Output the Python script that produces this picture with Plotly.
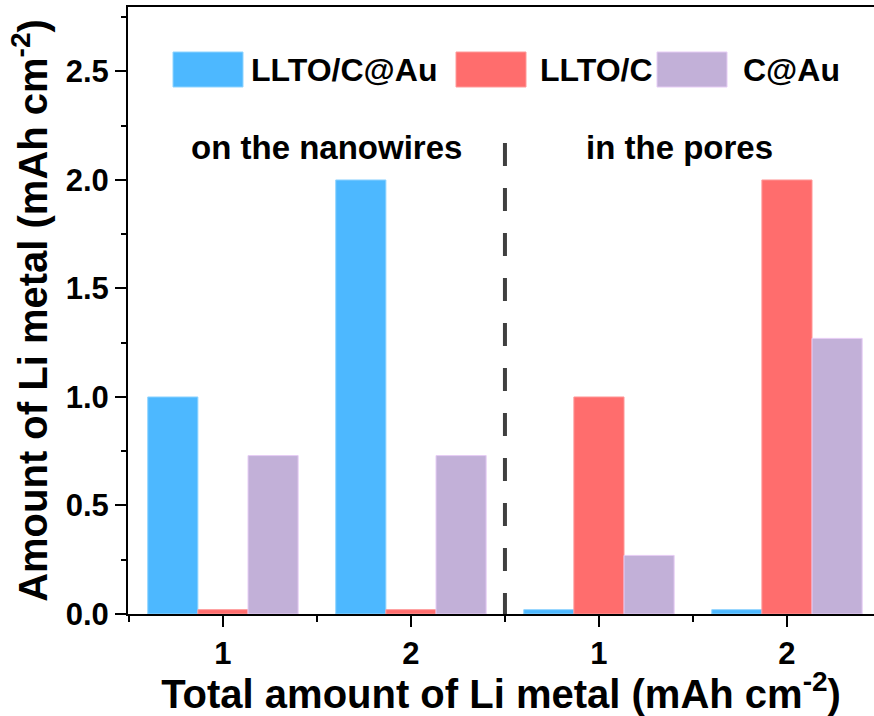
import plotly.graph_objects as go

# ---- data ----
positions = [1, 2, 3, 4]
tick_labels = ["1", "2", "1", "2"]
series_names = ["LLTO/C@Au", "LLTO/C", "C@Au"]
llto_c_au = [1.0, 2.0, 0.02, 0.02]
llto_c = [0.02, 0.02, 1.0, 2.0]
c_au = [0.73, 0.73, 0.27, 1.27]
region_labels = ["on the nanowires", "in the pores"]

colors = ["#4DB8FF", "#FF6D6D", "#C2B0D8"]
edge_colors = ["#8FD4FF", "#FF9A9A", "#E6CCF5"]
values = [llto_c_au, llto_c, c_au]

FONT = "Liberation Sans, Arial, sans-serif"

fig = go.Figure()
for name, vals, col, ec in zip(series_names, values, colors, edge_colors):
    fig.add_trace(go.Bar(
        x=positions, y=vals, name=name,
        marker=dict(color=col, line=dict(color=ec, width=1)),
        showlegend=False,
    ))

W, H = 874, 716
L, R, T, B = 128, 0, 7, 102
pw, ph = W - L - R, H - T - B

def px_x(p):
    return (p - L) / pw

def px_y(p):
    return (H - B - p) / ph

# manual legend
legend_boxes = [(173, 243, 249), (456, 526, 538), (657, 727, 741)]
for (x0, x1, tx), name, col, ec in zip(legend_boxes, series_names, colors, edge_colors):
    fig.add_shape(type="rect", xref="paper", yref="paper",
                  x0=px_x(x0), x1=px_x(x1), y0=px_y(87), y1=px_y(52),
                  fillcolor=col, line=dict(color=ec, width=1))
    fig.add_annotation(xref="paper", yref="paper", x=px_x(tx), y=px_y(69.5),
                       text="<b>%s</b>" % name, showarrow=False,
                       xanchor="left", yanchor="middle",
                       font=dict(family=FONT, size=32, color="black"))

# divider
fig.add_shape(type="line", xref="x", yref="y", x0=2.5, x1=2.5, y0=2.17, y1=0,
              line=dict(color="#404040", width=4, dash="23px,22px"))

# region labels
fig.add_annotation(x=1.553, y=2.15, xref="x", yref="y", text="<b>%s</b>" % region_labels[0],
                   showarrow=False, font=dict(family=FONT, size=33, color="black"))
fig.add_annotation(x=3.43, y=2.15, xref="x", yref="y", text="<b>%s</b>" % region_labels[1],
                   showarrow=False, font=dict(family=FONT, size=33, color="black"))

fig.update_layout(
    width=W, height=H,
    margin=dict(l=L, r=R, t=T, b=B, pad=0),
    plot_bgcolor="white", paper_bgcolor="white",
    barmode="group", bargap=0.2, bargroupgap=0,
    font=dict(family=FONT, color="black"),
)
fig.update_xaxes(
    range=[0.495, 4.463], tickvals=positions, ticktext=["<b>%s</b>" % t for t in tick_labels],
    ticks="outside", ticklen=11, tickwidth=2, tickcolor="black",
    minor=dict(tickvals=[0.5, 1.5, 2.5, 3.5], ticks="outside", ticklen=6, tickwidth=2, tickcolor="black"),
    showline=True, linewidth=2, linecolor="black", mirror=True,
    showgrid=False, zeroline=False,
    tickfont=dict(family=FONT, size=31, color="black"),
    title=dict(text="<b>Total amount of Li metal (mAh cm<sup>-2</sup>)</b>",
               font=dict(family=FONT, size=40, color="black"), standoff=2),
)
fig.update_yaxes(
    range=[0, 2.797], dtick=0.5, tick0=0, tickformat=".1f",
    ticks="outside", ticklen=11, tickwidth=2, tickcolor="black",
    minor=dict(dtick=0.25, tick0=0, ticks="outside", ticklen=5, tickwidth=2, tickcolor="black"),
    showline=True, linewidth=2, linecolor="black", mirror=False,
    showgrid=False, zeroline=False,
    tickprefix="<b>", ticksuffix="</b>",
    tickfont=dict(family=FONT, size=31, color="black"),
    title=dict(text="<b>Amount of Li metal (mAh cm<sup>-2</sup>)</b>",
               font=dict(family=FONT, size=40, color="black"), standoff=6),
)

fig.write_html("out.html")
